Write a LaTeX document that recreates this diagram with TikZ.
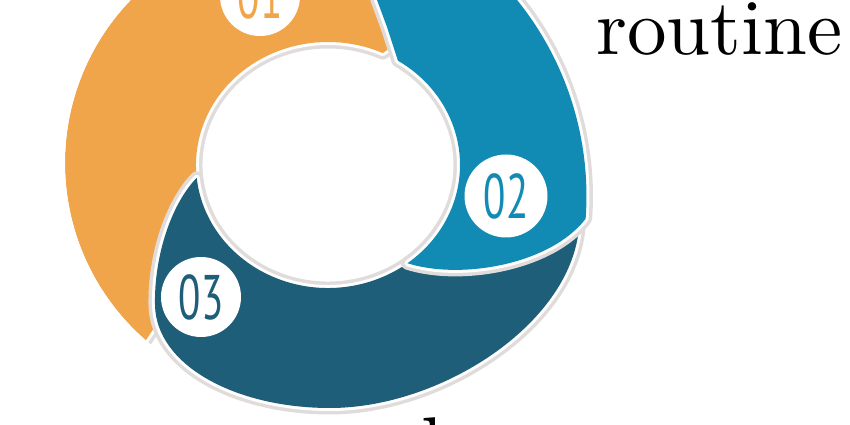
\documentclass[tikz,border=0pt]{standalone}
\usepackage{fontspec}
\newfontfamily\numfont{PT Sans}
\newfontfamily\wordfont{lmroman10-regular.otf}
\definecolor{orng}{HTML}{F1A54B}
\definecolor{blu}{HTML}{118BB3}
\definecolor{tl}{HTML}{1F5E78}
\definecolor{shd}{HTML}{E0DCDB}
\tikzset{
  seg/.style={preaction={draw=shd,line width=13pt,line join=round},
              preaction={draw=white,line width=6pt,line join=round}},
  numcirc/.style={circle,fill=white,inner sep=0pt},
  num/.style={font=\numfont\fontsize{63}{63}\selectfont,inner sep=0pt},
  bigword/.style={font=\wordfont\fontsize{79}{79}\selectfont,inner sep=0pt,anchor=base west}
}
\begin{document}
\begin{tikzpicture}[x=1pt,y=1pt]
\useasboundingbox (0,0) rectangle (850,425);
\clip (0,0) rectangle (850,425);
% orange segment
\path[seg,fill=orng]
  (165.2,454.5) arc[start angle=125,end angle=229,radius=235pt]
  -- (156,100) -- (175,140) -- (195,180) -- (206,205) -- (208.37,208.02)
  arc[start angle=205,end angle=65.5,x radius=132pt,y radius=123pt]
  -- (412,392) -- (430,460) -- cycle;
% no glow on the outer rim of the orange part
\draw[white,line width=14pt] (300,262) ++(125:242) arc[start angle=125,end angle=231,radius=242pt];
% teal segment
\path[seg,fill=tl]
  (196.72,247.14) .. controls (172,222) and (154,170) .. (155,120)
  .. controls (156,60) and (235,17) .. (330,17)
  .. controls (440,17) and (570,100) .. (579,197)
  -- (578,235) -- (520,222) -- (447.63,208.02)
  arc[start angle=-25,end angle=-174,x radius=132pt,y radius=123pt]
  -- cycle;
% blue segment
\path[seg,fill=blu]
  (397.95,364.31) -- (387,398) -- (377,425) -- (370,460) -- (483.4,460.5)
  arc[start angle=48,end angle=-4.2,radius=311.5pt]
  .. controls (550,160) and (460,145) .. (407.44,161.77)
  arc[start angle=-53,end angle=58,x radius=132pt,y radius=123pt]
  -- cycle;
% number badges
\node[numcirc,minimum size=80pt] (c1) at (260,429) {};
\node[num,text=orng] (n1) at (c1) {\scalebox{0.65}[1]{01}};
\node[numcirc,minimum size=83pt] (c2) at (506,229) {};
\node[num,text=blu] (n2) at (c2) {\scalebox{0.65}[1]{02}};
\node[numcirc,minimum size=80pt] (c3) at (201,128) {};
\node[num,text=tl] (n3) at (c3) {\scalebox{0.65}[1]{03}};
% words
\node[bigword] (title) at (596,370) {routine};
\node[bigword] (bottomword) at (421,-47) {l};
\end{tikzpicture}
\end{document}
